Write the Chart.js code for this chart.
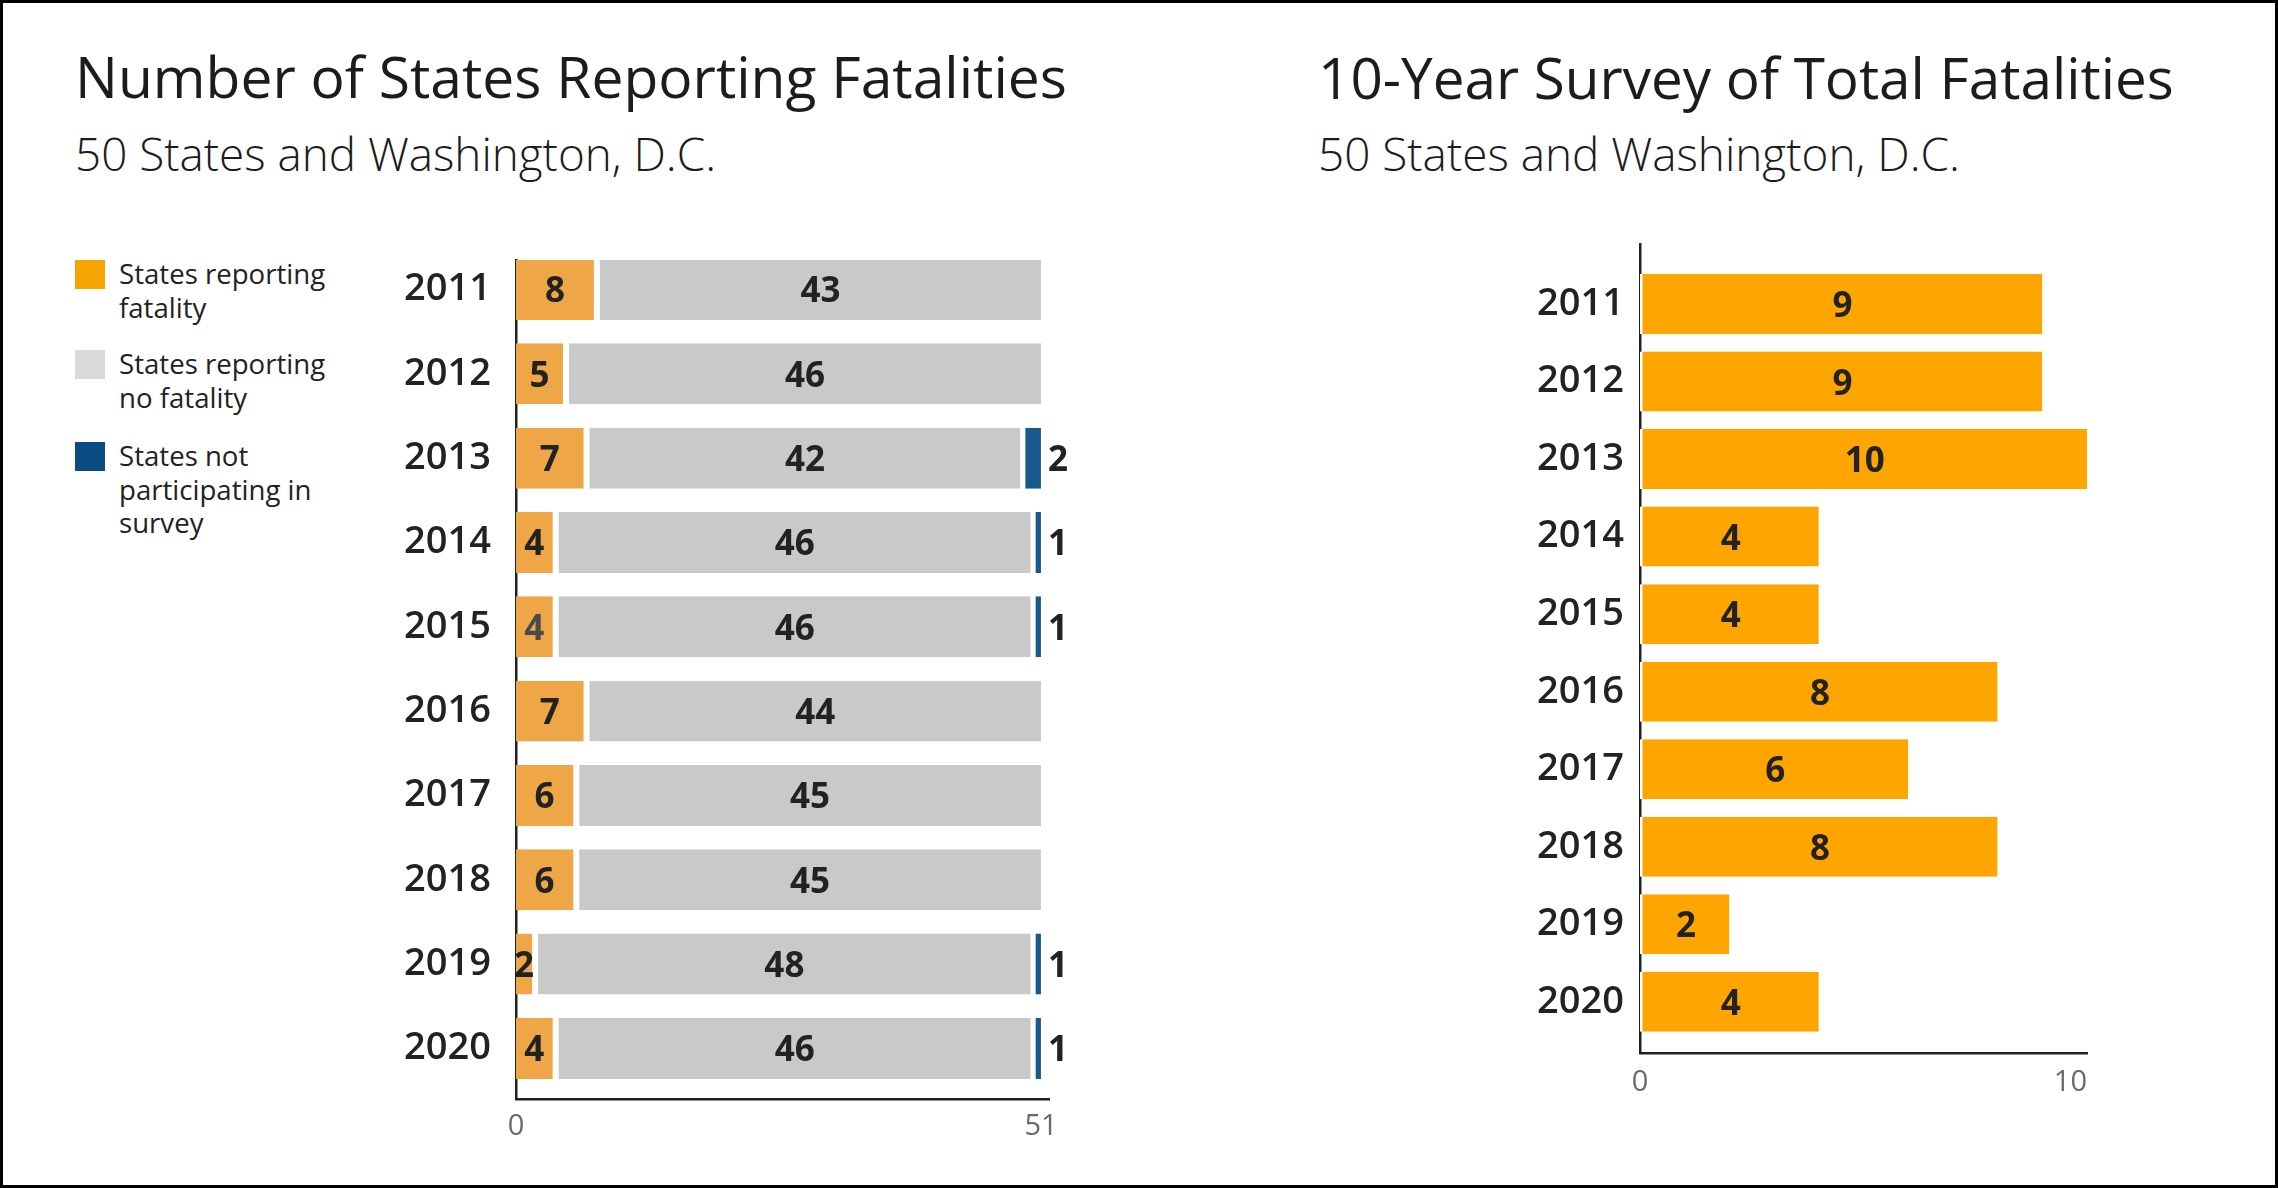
<!DOCTYPE html>
<html>
<head>
<meta charset="utf-8">
<script src="https://cdn.jsdelivr.net/npm/chart.js@4.4.1/dist/chart.umd.min.js"></script>
<style>
  html, body { margin:0; padding:0; background:#fff; }
  body { width:2278px; height:1188px; position:relative; overflow:hidden;
         font-family:"Open Sans","Noto Sans",sans-serif; color:#1c1c1c; }
  #frame { position:absolute; left:0; top:0; width:2278px; height:1188px; box-sizing:border-box;
           border:3px solid #000; pointer-events:none; z-index:5; }
  .fit { position:absolute; white-space:nowrap; line-height:1; display:inline-block; }
  .title { font-weight:400; }
  .sub { font-weight:300; }
  #legend { position:absolute; left:75px; top:260px; }
  .lg-item { position:absolute; left:0; }
  .sw { position:absolute; left:0; top:0; width:30px; height:29px; }
  .lg-text { position:absolute; left:44px; top:-3px; font-size:27.6px; line-height:33.5px;
             white-space:nowrap; color:#222; font-weight:400; }
  .wrap { position:absolute; }
</style>
</head>
<body>
<div id="frame"></div>

<div class="fit title" data-w="992" data-base="99" style="left:75px;font-size:60px">Number of States Reporting Fatalities</div>
<div class="fit sub" data-w="641" data-base="172" style="left:75px;font-size:42px">50 States and Washington, D.C.</div>
<div class="fit title" data-w="856" data-base="99" style="left:1318px;font-size:60px">10-Year Survey of Total Fatalities</div>
<div class="fit sub" data-w="642" data-base="172" style="left:1318px;font-size:42px">50 States and Washington, D.C.</div>

<div id="legend"></div>

<div class="wrap" style="left:380px;top:240px;width:720px;height:900px;"><canvas id="left"></canvas></div>
<div class="wrap" style="left:1400px;top:220px;width:720px;height:890px;"><canvas id="right"></canvas></div>

<script>
// ---------- data ----------
const years = [2011, 2012, 2013, 2014, 2015, 2016, 2017, 2018, 2019, 2020];
const statesWithFatality = [8, 5, 7, 4, 4, 7, 6, 6, 2, 4];
const statesNoFatality   = [43, 46, 42, 46, 46, 44, 45, 45, 48, 46];
const statesNotSurveyed  = [0, 0, 2, 1, 1, 0, 0, 0, 1, 1];
const totalFatalities    = [9, 9, 10, 4, 4, 8, 6, 8, 2, 4];
const leftTicks  = [0, 51];
const rightTicks = [0, 10];
const legendLabels = ['States reporting\nfatality', 'States reporting\nno fatality', 'States not\nparticipating in\nsurvey'];

// ---------- styles ----------
const FONT = "'Open Sans', 'Noto Sans', sans-serif";
Chart.defaults.font.family = FONT;
Chart.defaults.color = '#222';
const legendColors = ['#F6A400', '#D9D9D9', '#0B4A82'];
const leftColors   = ['#EFA647', '#C9C9C9', '#165A8C'];
const rightColor   = '#FFA500';

// ---------- legend (HTML) ----------
(function buildLegend() {
  const lg = document.getElementById('legend');
  const tops = [0, 90, 182];
  legendLabels.forEach((t, i) => {
    const it = document.createElement('div');
    it.className = 'lg-item';
    it.style.top = tops[i] + 'px';
    const sw = document.createElement('div');
    sw.className = 'sw';
    sw.style.background = legendColors[i];
    const tx = document.createElement('div');
    tx.className = 'lg-text';
    tx.innerHTML = t.split('\n').join('<br>');
    it.appendChild(sw); it.appendChild(tx);
    lg.appendChild(it);
  });
})();

// ---------- text fitting ----------
function fitTexts() {
  document.querySelectorAll('.fit').forEach(el => {
    const target = parseFloat(el.dataset.w);
    const base = parseFloat(el.dataset.base);
    let fs = parseFloat(el.style.fontSize);
    for (let k = 0; k < 3; k++) {
      const w = el.getBoundingClientRect().width;
      fs = fs * target / w;
      el.style.fontSize = fs + 'px';
    }
    el.style.top = (base - 0.888 * fs) + 'px';
  });
}
fitTexts();
if (document.fonts && document.fonts.ready) document.fonts.ready.then(fitTexts);

// ---------- bar label plugin ----------
const barLabels = {
  id: 'barLabels',
  afterDatasetsDraw(chart, args, opts) {
    const ctx = chart.ctx;
    ctx.save();
    ctx.font = opts.font;
    ctx.textBaseline = 'middle';
    chart.data.datasets.forEach((ds, di) => {
      const meta = chart.getDatasetMeta(di);
      const bw = (typeof ds.borderWidth === 'object') ? ds.borderWidth : {};
      meta.data.forEach((el, i) => {
        const v = ds.data[i];
        if (!v) return;
        const p = el.getProps(['x', 'y', 'base'], true);
        ctx.fillStyle = (ds.labelColors && ds.labelColors[i]) || opts.color;
        if (ds.labelOutside) {
          ctx.textAlign = 'left';
          ctx.fillText(String(v), p.x + opts.outsideGap, p.y + opts.dy);
        } else {
          ctx.textAlign = 'center';
          const l = p.base + (bw.left || 0), r = p.x - (bw.right || 0);
          ctx.fillText(String(v), (l + r) / 2, p.y + opts.dy);
        }
      });
    });
    ctx.restore();
  }
};

function yAxis(min, max, width, pad) {
  return {
    type: 'linear', reverse: true, min: min, max: max, stacked: true, z: 1, offset: false,
    grid: { display: false, drawTicks: false, offset: false },
    border: { display: true, color: '#222', width: 2.5 },
    ticks: { padding: pad, color: '#222', font: { size: 38, weight: '600' }, callback: v => String(v) },
    afterBuildTicks: s => { s.ticks = years.map(v => ({ value: v })); },
    afterFit: s => { s.width = width; s.paddingTop = 0; s.paddingBottom = 0; }
  };
}
function xAxis(max, ticks, height, pad, lastPad) {
  return {
    type: 'linear', min: 0, max: max, stacked: true, z: 1, offset: false,
    grid: { display: false, drawTicks: false },
    border: { display: true, color: '#222', width: 2.5 },
    ticks: { padding: pad, color: '#6a6a6a', font: { size: 29, weight: '400' }, maxRotation: 0,
             callback: (v, i) => (i === ticks.length - 1 ? String(v) + lastPad : String(v)) },
    afterBuildTicks: s => { s.ticks = ticks.map(v => ({ value: v })); },
    afterFit: s => { s.height = height; s.paddingLeft = 0; s.paddingRight = 0; }
  };
}

// ---------- left chart ----------
new Chart(document.getElementById('left'), {
  type: 'bar',
  data: {
    labels: years,
    datasets: [
      { label: 'States reporting fatality', data: statesWithFatality, backgroundColor: leftColors[0],
        borderColor: '#fff', borderWidth: { left: 0, right: 4.5, top: 0, bottom: 0 }, borderSkipped: false,
        labelColors: [null, null, null, null, '#4a4a4a'] },
      { label: 'States reporting no fatality', data: statesNoFatality, backgroundColor: leftColors[1],
        borderColor: '#fff', borderWidth: { left: 1.5, right: 0, top: 0, bottom: 0 }, borderSkipped: false },
      { label: 'States not participating in survey', data: statesNotSurveyed, backgroundColor: leftColors[2],
        borderColor: '#fff', borderWidth: { left: 5, right: 0, top: 0, bottom: 0 }, borderSkipped: false,
        labelOutside: true }
    ]
  },
  options: {
    indexAxis: 'y', responsive: true, maintainAspectRatio: false, animation: false,
    devicePixelRatio: 1,
    layout: { padding: { top: 20, right: 51, left: 0, bottom: 0 } },
    datasets: { bar: { categoryPercentage: 1, barPercentage: 0.723 } },
    scales: {
      y: yAxis(2010.65, 2020.6, 136, 25),
      x: xAxis(51.78, leftTicks, 41, 10, '')
    },
    plugins: {
      legend: { display: false }, tooltip: { enabled: false },
      barLabels: { font: "700 35px " + FONT, color: '#222', outsideGap: 7, dy: 3 }
    }
  },
  plugins: [barLabels]
});

// ---------- right chart ----------
new Chart(document.getElementById('right'), {
  type: 'bar',
  data: {
    labels: years,
    datasets: [
      { label: 'Total fatalities', data: totalFatalities, backgroundColor: rightColor,
        borderColor: '#fff', borderWidth: { left: 2.5, right: 0, top: 0, bottom: 0 }, borderSkipped: false }
    ]
  },
  options: {
    indexAxis: 'y', responsive: true, maintainAspectRatio: false, animation: false,
    devicePixelRatio: 1,
    layout: { padding: { top: 24, right: 33, left: 0, bottom: 0 } },
    datasets: { bar: { categoryPercentage: 1, barPercentage: 0.774 } },
    scales: {
      y: yAxis(2010.226, 2020.66, 240, 16),
      x: xAxis(10, rightTicks, 57, 12, '\u2007\u2007')
    },
    plugins: {
      legend: { display: false }, tooltip: { enabled: false },
      barLabels: { font: "700 35px " + FONT, color: '#222', outsideGap: 7, dy: 3 }
    }
  },
  plugins: [barLabels]
});
</script>
</body>
</html>
